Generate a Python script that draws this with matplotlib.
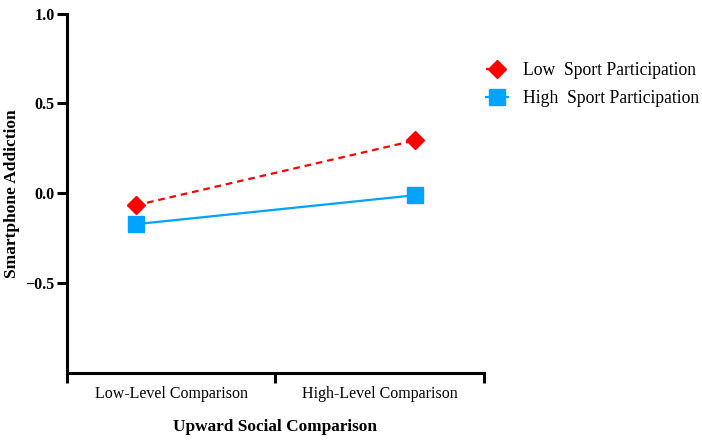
import matplotlib.pyplot as plt

plt.rcParams['font.family'] = ['Liberation Serif', 'DejaVu Serif']

categories = ['Low-Level Comparison', 'High-Level Comparison']
low_sport = [-0.067, 0.294]
high_sport = [-0.172, -0.011]
series_names = ['Low  Sport Participation', 'High  Sport Participation']

# where the points sit inside the 0..2 x range
x_pos = [0.33, 1.67]

fig = plt.figure(figsize=(7.02, 4.43), dpi=100)
ax = fig.add_axes([0.0954, 0.158, 0.5936, 0.8115])

ax.plot(x_pos, low_sport, color='#FF0000', ls=(0, (3, 2.2)), lw=1.6,
        marker='D', ms=9, label=series_names[0])
ax.plot(x_pos, high_sport, color='#00A3FF', ls='-', lw=1.6,
        marker='s', ms=11, label=series_names[1])

ax.set_xlim(0, 2)
ax.set_ylim(-1, 1)
ax.set_yticks([1.0, 0.5, 0.0, -0.5])
ax.set_yticklabels(['1.0', '0.5', '0.0', '\u22120.5'], fontweight='bold', fontsize=11.5)

ax.set_xticks([0, 1, 2])
ax.set_xticklabels([])
ax.set_xticks([0.5, 1.5], minor=True)
ax.set_xticklabels(categories, minor=True, fontsize=11.5)
ax.tick_params(axis='x', which='minor', length=0, pad=9)
ax.tick_params(axis='x', which='major', length=7, width=2.2)
ax.tick_params(axis='y', length=7, width=2.2, pad=2)

for s in ['top', 'right']:
    ax.spines[s].set_visible(False)
for s in ['left', 'bottom']:
    ax.spines[s].set_linewidth(2.2)

ax.set_xlabel('Upward Social Comparison', fontweight='bold', fontsize=12.4, labelpad=12.5)
ax.set_ylabel('Smartphone Addiction', fontweight='bold', fontsize=12.5, labelpad=4)

ax.legend(loc='upper left', bbox_to_anchor=(0.692, 0.859), bbox_transform=fig.transFigure,
          frameon=False, fontsize=12.7, handlelength=1.26, handletextpad=0.87,
          labelspacing=0.6, borderpad=0, borderaxespad=0)

fig.savefig('out.png', dpi=100)
